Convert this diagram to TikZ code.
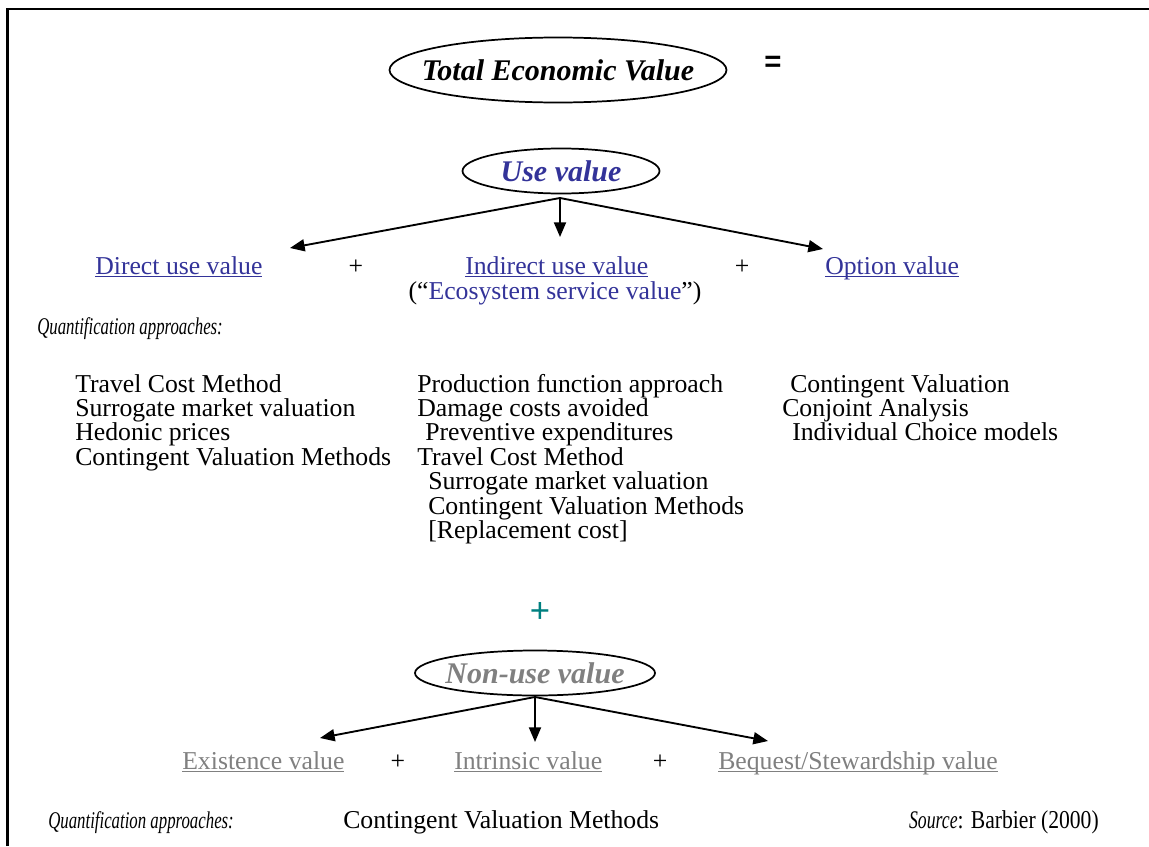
\documentclass[tikz,border=0pt]{standalone}
\usepackage{fontspec}
\setmainfont{Liberation Serif}
\newfontfamily\sansbold{Liberation Sans}
\newfontfamily\quantfont[FakeStretch=0.7]{Liberation Serif Italic}
\newfontfamily\srcfont[FakeStretch=0.84]{Liberation Serif}
\usetikzlibrary{arrows.meta,positioning}
\definecolor{useblue}{RGB}{51,51,153}
\definecolor{nongray}{RGB}{128,128,128}
\definecolor{plusteal}{RGB}{0,128,128}
\newcommand{\ulink}[1]{\underline{\smash{#1}}}

\begin{document}
\begin{tikzpicture}[x=0.75pt,y=-0.75pt,
   txt/.style={inner sep=0pt, font=\fontsize{19.3}{23}\selectfont},
   quant/.style={inner sep=0pt, anchor=base west, font=\quantfont\fontsize{18}{21}\selectfont},
   ovaltxt/.style={inner sep=0pt, font=\fontsize{22.5}{26}\selectfont\bfseries\itshape},
   oval/.style={draw, line width=1.3pt},
   arr/.style={-{Triangle[length=11pt,width=9pt]}, line width=1.4pt}]
\useasboundingbox (0,0) rectangle (1149,846);
\draw[line width=1.8pt] (7.5,846) |- (1149,9);

\node[ovaltxt] (tev) at (558,70) {Total Economic Value};
\draw[oval] (tev.center) ellipse [x radius=168.5, y radius=32.5];
\node[font=\sansbold\fontsize{22}{26}\selectfont\bfseries] (eq) at (773,64) {=};

\node[ovaltxt, text=useblue] (use) at (561,171) {Use value};
\draw[oval] (use.center) ellipse [x radius=98.5, y radius=22.5];
\coordinate (usej) at (560,198);
\node[txt, anchor=base west, text=useblue] (direct) at (95,274) {\ulink{Direct use value}};
\node[txt, anchor=base] (p1) at (356,274) {+};
\node[txt, anchor=base west, text=useblue] (indirect) at (465,274) {\ulink{Indirect use value}};
\node[txt, anchor=base] (p2) at (742,274) {+};
\node[txt, anchor=base west, text=useblue] (option) at (825,274) {\ulink{Option value}};
\node[txt, anchor=base] (eco) at (555,299) {(``\textcolor{useblue}{Ecosystem service value}'')};
\coordinate (dtip) at (290,248);
\coordinate (itip) at (560,237);
\coordinate (otip) at (823,249);
\draw[arr] (usej) -- (dtip);
\draw[arr] (usej) -- (itip);
\draw[arr] (usej) -- (otip);

\node[quant] (q1) at (37,334) {Quantification approaches:};
\foreach \t [count=\i] in {Travel Cost Method, Surrogate market valuation,
   Hedonic prices, Contingent Valuation Methods}
   \node[txt, anchor=base west] (a\i) at (75,{392+24.4*(\i-1)}) {\t};
\foreach \dx/\t [count=\i] in {0/Production function approach, 0/Damage costs avoided,
   8/Preventive expenditures, 0/Travel Cost Method, 11/Surrogate market valuation,
   11/Contingent Valuation Methods, 11/{[Replacement cost]}}
   \node[txt, anchor=base west] (b\i) at ({417+\dx},{392+24.4*(\i-1)}) {\t};
\foreach \dx/\t [count=\i] in {8/Contingent Valuation, 0/Conjoint Analysis,
   10/Individual Choice models}
   \node[txt, anchor=base west] (c\i) at ({782+\dx},{392+24.4*(\i-1)}) {\t};

\node[text=plusteal, font=\sansbold\fontsize{26}{30}\selectfont] (plus) at (540,612) {+};

\node[ovaltxt, text=nongray] (nonuse) at (535,673) {Non-use value};
\draw[oval] (nonuse.center) ellipse [x radius=120, y radius=22.5];
\coordinate (nonj) at (535,697);
\node[txt, anchor=base west, text=nongray] (exist) at (182,769) {\ulink{Existence value}};
\node[txt, anchor=base] (p3) at (398,769) {+};
\node[txt, anchor=base west, text=nongray] (intr) at (454,769) {\ulink{Intrinsic value}};
\node[txt, anchor=base] (p4) at (660,769) {+};
\node[txt, anchor=base west, text=nongray] (bequest) at (718,769) {\ulink{Bequest/Stewardship value}};
\coordinate (etip) at (320,738);
\coordinate (ntip) at (535,742);
\coordinate (btip) at (768,741);
\draw[arr] (nonj) -- (etip);
\draw[arr] (nonj) -- (ntip);
\draw[arr] (nonj) -- (btip);

\node[quant] (q2) at (48,828) {Quantification approaches:};
\node[txt, anchor=base west] (cvm) at (343,828) {Contingent Valuation Methods};
\node[txt, anchor=base east] (src) at (1099,828) {{\quantfont\fontsize{19}{22}\selectfont Source}\srcfont: Barbier (2000)};
\end{tikzpicture}
\end{document}
